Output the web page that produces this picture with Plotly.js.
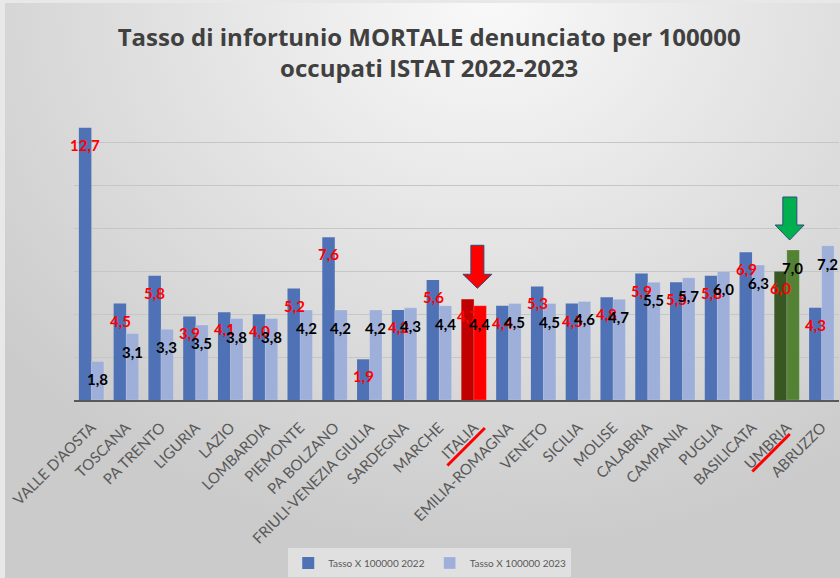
<!DOCTYPE html>
<html>
<head>
<meta charset="utf-8">
<script src="https://cdn.plot.ly/plotly-3.0.1.min.js"></script>
<style>
html,body{margin:0;padding:0;}
#chart{width:840px;height:578px;
background: radial-gradient(ellipse 75% 95% at 58% 0%, #f9f9f9 0%, #e4e4e4 45%, #cbcbcb 100%);
box-shadow: inset 5px 3px 0 #e8e8e8;}
</style>
</head>
<body>
<div id="chart"></div>
<script>
const categories = ["VALLE D'AOSTA","TOSCANA","PA TRENTO","LIGURIA","LAZIO","LOMBARDIA","PIEMONTE","PA BOLZANO","FRIULI-VENEZIA GIULIA","SARDEGNA","MARCHE","ITALIA","EMILIA-ROMAGNA","VENETO","SICILIA","MOLISE","CALABRIA","CAMPANIA","PUGLIA","BASILICATA","UMBRIA","ABRUZZO"];
const rate2022 = [12.7,4.5,5.8,3.9,4.1,4.0,5.2,7.6,1.9,4.2,5.6,4.7,4.4,5.3,4.5,4.8,5.9,5.5,5.8,6.9,6.0,4.3];
const rate2023 = [1.8,3.1,3.3,3.5,3.8,3.8,4.2,4.2,4.2,4.3,4.4,4.4,4.5,4.5,4.6,4.7,5.5,5.7,6.0,6.3,7.0,7.2];
const seriesNames = ["Tasso X 100000 2022","Tasso X 100000 2023"];
const highlightDown = "ITALIA";
const highlightUp = "UMBRIA";

const fmt = v => v.toFixed(1).replace('.', ',');
const c2022 = categories.map(c => c===highlightDown ? '#c00000' : (c===highlightUp ? '#385723' : '#4f72b6'));
const c2023 = categories.map(c => c===highlightDown ? '#ff0000' : (c===highlightUp ? '#548235' : '#9eafd9'));

const traces = [
  {type:'bar', name:seriesNames[0], x:categories, y:rate2022, marker:{color:c2022}, hoverinfo:'skip'},
  {type:'bar', name:seriesNames[1], x:categories, y:rate2023, marker:{color:c2023, line:{color:'rgba(255,255,255,0.35)',width:0.5}}, hoverinfo:'skip'}
];

// data labels (2022 red, 2023 black on top), placed on each bar of the group
const labelFont = {family:'Lato, sans-serif', size:15, weight:700};
const halfBar = 6.0;
const annotations = [];
categories.forEach((c,i) => annotations.push({x:c, y:rate2022[i], xref:'x', yref:'y', text:fmt(rate2022[i]), showarrow:false,
  xanchor:'center', yanchor:'top', xshift:-halfBar, yshift:-6, font:Object.assign({color:'#ff0000'},labelFont)}));
categories.forEach((c,i) => annotations.push({x:c, y:rate2023[i], xref:'x', yref:'y', text:fmt(rate2023[i]), showarrow:false,
  xanchor:'center', yanchor:'top', xshift:halfBar, yshift:-7, font:Object.assign({color:'#000000'},labelFont)}));
// red strike lines under highlighted tick labels
[[highlightDown, 11, -28], [highlightUp, 3, -34]].forEach(([c,dx,dy]) => annotations.push({
  x:c, y:0, xref:'x', yref:'y', text:' ', showarrow:true, arrowhead:0, arrowwidth:3, arrowcolor:'#ff0000',
  xshift:dx, yshift:dy, ax:-39, ay:39, standoff:0, startstandoff:0, font:{size:1}}));

const iD = categories.indexOf(highlightDown), iU = categories.indexOf(highlightUp);
const yD = rate2022[iD], yU = rate2023[iU];
const outline = {color:'#2f4a7a', width:1};
const shapes = [
  {type:'path', xref:'x', yref:'y', xsizemode:'pixel', ysizemode:'pixel', xanchor:iD, yanchor:yD,
   path:'M 3.5 11 L 18 25 L 10 25 L 10 54 L -3 54 L -3 25 L -11 25 Z', fillcolor:'#ff0000', line:outline, layer:'above'},
  {type:'path', xref:'x', yref:'y', xsizemode:'pixel', ysizemode:'pixel', xanchor:iU, yanchor:yU,
   path:'M 2.8 10 L 17.3 25 L 10 25 L 10 53 L -4 53 L -4 25 L -11.7 25 Z', fillcolor:'#00b050', line:outline, layer:'above'}
];

const layout = {
  width:840, height:578,
  paper_bgcolor:'rgba(0,0,0,0)', plot_bgcolor:'rgba(0,0,0,0)',
  margin:{l:74, r:1, t:100, b:178, autoexpand:false},
  title:{text:'Tasso di infortunio MORTALE denunciato per 100000<br>occupati ISTAT 2022-2023',
    font:{family:'"Open Sans", sans-serif', size:24, weight:700, color:'#404040'},
    x:0.511, xanchor:'center', y:0.92, yanchor:'top', yref:'container'},
  barmode:'group', bargap:0.28, bargroupgap:0,
  xaxis:{type:'category', range:[-0.5, categories.length-0.5], tickangle:-45,
    tickfont:{family:'Lato, sans-serif', size:15, color:'#595959'},
    ticklabelstandoff:11, ticklabelshift:0, automargin:false,
    showline:true, linecolor:'#595959', linewidth:2, ticks:'', showgrid:false, fixedrange:true},
  yaxis:{range:[0,14], dtick:2, showticklabels:false, showgrid:true, gridcolor:'#c6c6c6', gridwidth:1,
    zeroline:false, showline:false, fixedrange:true, automargin:false},
  showlegend:true,
  legend:{orientation:'h', x:0.465, xanchor:'center', y:0.026, yanchor:'middle', yref:'container',
    bgcolor:'#e0e0e0', font:{family:'Lato, sans-serif', size:10, color:'#595959'}, itemwidth:30},
  shapes:shapes,
  annotations:annotations
};
Plotly.newPlot('chart', traces, layout, {displayModeBar:false, staticPlot:true});
</script>
</body>
</html>
